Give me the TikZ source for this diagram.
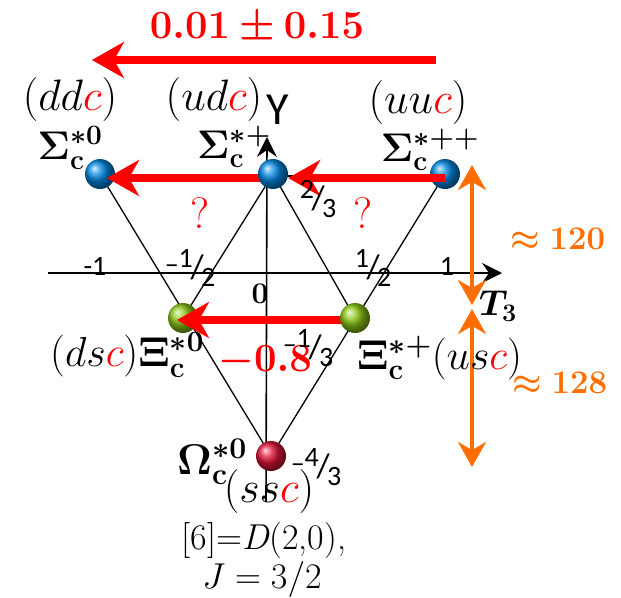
\RequirePackage{fix-cm}
\documentclass[tikz,border=0pt]{standalone}
\usepackage{amsmath,bm}
\usepackage[no-math]{fontspec}
\newfontfamily\carl{Carlito}
\usetikzlibrary{arrows.meta}
\definecolor{myred}{RGB}{255,0,0}
\definecolor{myorange}{RGB}{255,110,0}
\definecolor{ballblue}{RGB}{0,135,225}
\definecolor{ballgreen}{RGB}{140,200,20}
\definecolor{ballred}{RGB}{225,20,55}
\newcommand\myfs[1]{\fontsize{#1}{#1}\selectfont}
\newcommand\redc{{\color{myred}c}}
\newcommand\slfr[3]{#1\raisebox{0.38em}{#2}\kern-0.08em{\myfs{34}/}\kern-0.1em\raisebox{-0.28em}{#3}}
\newcommand\tdash{\raisebox{0.16em}{\textendash}}
\pgfdeclarelayer{bg}
\pgfdeclarelayer{fg}
\pgfsetlayers{bg,main,fg}
\begin{document}
\begin{tikzpicture}[x=1pt,y=-1pt,
  qball/.style={circle, minimum size=30pt, inner sep=0pt, shade},
  redarr/.style={draw=myred, line width=8pt, -{Stealth[length=32pt,width=36pt,inset=10pt]}},
  orarr/.style={draw=myorange, line width=4pt, {Stealth[length=25pt,width=28pt,inset=8pt]}-{Stealth[length=25pt,width=28pt,inset=8pt]}},
  axisarr/.style={line width=1.6pt, -{Stealth[length=20pt,width=20pt,inset=7pt]}},
  tline/.style={line width=1.3pt},
  quark/.style={inner sep=0pt, font=\myfs{44}},
  bname/.style={inner sep=0pt, font=\myfs{40}},
  tick/.style={inner sep=0pt, font=\carl\myfs{28}},
  qmark/.style={inner sep=0pt, text=myred, font=\myfs{44}},
  redlab/.style={inner sep=0pt, text=myred, font=\myfs{40}},
  orlab/.style={inner sep=0pt, text=myorange, font=\myfs{33}},
  note/.style={inner sep=0pt, font=\myfs{36}}]
\useasboundingbox (0,0) rectangle (621,597);

% balls (main layer)
\node[qball, ball color=ballblue] (S0) at (100,174) {};
\node[qball, ball color=ballblue] (Spp) at (445,174) {};
\node[qball, ball color=ballgreen] (X0) at (183,318) {};
\node[qball, ball color=ballred] (Om) at (271,456) {};
\begin{pgfonlayer}{fg}
\node[qball, ball color=ballblue] (Sp) at (273,174) {};
\node[qball, ball color=ballgreen] (Xp) at (355,318) {};
\end{pgfonlayer}

% axes and weight lines
\coordinate (xl) at (48,273);
\coordinate (xr) at (502,273);
\coordinate (yb) at (266,502);
\coordinate (yt) at (267,137);
\begin{pgfonlayer}{bg}
\draw[axisarr] (xl) -- (xr);
\draw[axisarr] (yb) -- (yt);
\draw[tline] ([yshift=-2pt]S0.center) -- ([yshift=-2pt]Spp.center);
\draw[tline] (S0.center) -- (Om.center);
\draw[tline] (Spp.center) -- (Om.center);
\draw[tline] (Sp.center) -- (X0.center);
\draw[tline] (Sp.center) -- (Xp.center);
\end{pgfonlayer}

% red arrows
\coordinate (topR) at (436,60);
\coordinate (topL) at (92,60);
\draw[redarr] (topR) -- (topL);
\draw[redarr] ([yshift=-4pt]Spp.center) -- ([yshift=-4pt]Sp.east);
\draw[redarr] ([yshift=-4pt]Sp.center) -- ([xshift=7pt,yshift=-4pt]S0.center);
\draw[redarr] ([yshift=-2pt]Xp.center) -- ([xshift=-6pt,yshift=-2pt]X0.center);

% orange arrows
\coordinate (o1) at (472,165);
\coordinate (o2) at (472,305);
\coordinate (o3) at (472,309);
\coordinate (o4) at (472,467);
\draw[orarr] (o1) -- (o2);
\draw[orarr] (o3) -- (o4);

% labels
\node[redlab, anchor=base, text height=27pt, text depth=4pt] (lab1) at (257,38) {$\bm{0.01\pm0.15}$};
\node[redlab, anchor=base] (lab2) at (265,371) {$\bm{-0.8}$};
\node[orlab, anchor=base] (lab3) at (558,249) {$\bm{\approx 120}$};
\node[orlab, anchor=base] (lab4) at (560,393) {$\bm{\approx 128}$};

\node[quark] (q1) at (70,100) {$(dd\redc)$};
\node[quark] (q2) at (214,100) {$(ud\redc)$};
\node[quark] (q3) at (418,102) {$(uu\redc)$};

\node[bname] (n1) at (70,148) {$\bm{\Sigma}_{\mathbf{c}}^{\bm{*}\mathbf{0}}$};
\node[bname] (n2) at (234,147) {$\bm{\Sigma}_{\mathbf{c}}^{\bm{*+}}$};
\node[bname] (n3) at (430,150) {$\bm{\Sigma}_{\mathbf{c}}^{\bm{*++}}$};

\node[quark, font=\myfs{42}, anchor=east] (n4) at (204,355) {$(ds\redc)\bm{\Xi}_{\mathbf{c}}^{\bm{*}\mathbf{0}}$};
\node[quark, font=\myfs{42}, anchor=west] (n5) at (357,358) {$\bm{\Xi}_{\mathbf{c}}^{\bm{*+}}(us\redc)$};
\node[bname, font=\myfs{43}] (n6) at (212,462) {$\bm{\Omega}_{\mathbf{c}}^{\bm{*}\mathbf{0}}$};
\node[quark] (q6) at (269,491) {$(ss\redc)$};

\node[qmark] (qm1) at (200,213) {?};
\node[qmark] (qm2) at (363,213) {?};

\node[inner sep=0pt, font=\carl\myfs{46}] (ylab) at (278,110) {Y};
\node[inner sep=0pt, font=\myfs{36}] (tlab) at (498,306) {$\bm{T}_{\mathbf{3}}$};

\node[tick] (t1) at (95,266) {-1};
\node[tick] (t2) at (190,268) {\slfr{\tdash}{1}{2}};
\node[tick] (t3) at (373,268) {\slfr{}{1}{2}};
\node[tick] (t4) at (447,266) {1};
\node[inner sep=0pt, font=\myfs{30}\bfseries] (t5) at (260,294) {0};
\node[tick] (t6) at (318,199) {\slfr{}{2}{3}};
\node[tick] (t7) at (308,348) {\slfr{\tdash}{1}{3}};
\node[tick] (t8) at (316,467) {\slfr{\tdash}{4}{3}};

\node[note] (d1) at (264,541) {[6]=\textit{D}(2,0),};
\node[note] (d2) at (262,579) {$J=3/2$};
\end{tikzpicture}
\end{document}
